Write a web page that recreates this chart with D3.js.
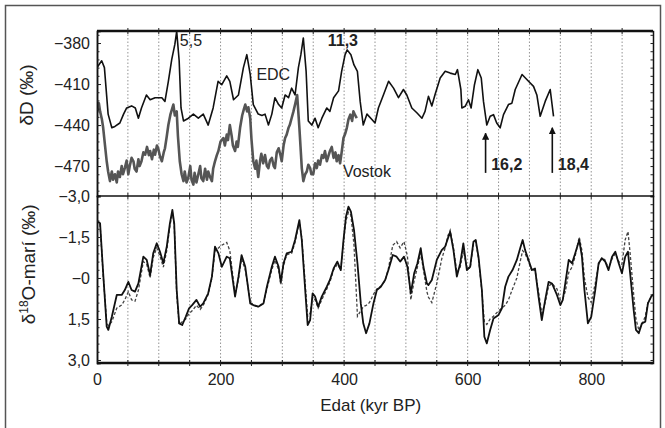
<!DOCTYPE html>
<html>
<head>
<meta charset="utf-8">
<script src="https://cdn.jsdelivr.net/npm/d3@7"></script>
<style>
body{margin:0;background:#fff;}
svg{display:block;font-family:"Liberation Sans",Arial,sans-serif;}
</style>
</head>
<body>
<div class="chart"></div>
<script>
(function(){

//pseudo-global data arrays (ages in kyr BP)
var edcAge = [0,7.6,12,18,24,29,37,43,48,56,62,67,72,80,86,94,105,110,115.5,121,126,129,133,136,140,148,156,164,172,180,188,196,202,210,215,221,229,237,242.5,248,253,261,267,272,277.5,283,288,294,299,304.5,310,315,320.6,326,330,334,338.5,342,347.7,353,358,364,372,377,383,391,396,401.6,405,411,416,421.5,426,431,437,445,450,455.5,463.6,472,480,488,496,501.5,509.6,517.7,526,531,536.5,542,547,555.5,563.6,571.7,580,583.5,589,590.6,596,601.3,605.6,611,616.5,622,625.6,631,636.4,641.8,647,652.6,658,666,671.6,677,688,698.5,706.6,712,717.4,725.5,733.6,739];
var edcDD = [-398,-393,-398,-432,-442,-441,-438.5,-432,-427.5,-426,-427.5,-435,-427.5,-418,-421.5,-420,-420,-422.7,-408,-392,-381,-371.5,-393,-427.5,-437,-435,-432,-435,-432,-440,-427.5,-408,-410.5,-404,-408,-421.5,-418,-398,-388.5,-403,-425,-432,-433,-432,-440,-432,-420,-425,-427.5,-418,-420,-413,-418,-398,-388.5,-376.3,-400.7,-437,-440,-435,-442,-435,-427.5,-430,-420,-415,-400.7,-388.5,-385,-388.5,-396,-400.7,-422.7,-440,-432,-436,-438.5,-427.5,-418,-408,-413,-420,-414,-418,-427.5,-431,-435,-430,-419,-426,-418,-405.6,-400.7,-402,-403,-399.5,-414,-427.5,-426.3,-421.5,-427.5,-410.5,-399.5,-405.6,-422.7,-440,-433.6,-432.4,-438.5,-442,-432.4,-425,-424,-414,-403,-408,-411.7,-418,-433.6,-422.7,-414,-433.6];

var vostokAge = [0,3,5,8,10,13,15.7,18,21,24,26,29,32,34,37,40,42,45,48,50.7,53,56,59,61,64,67,69,72,75,78,81,84,86,89,92,94,97,99,102,105,108,110,113,115.5,119,123.6,126,129,131,134,137,140,142,145,148,151,153,156,158,161,164,167,169,172,175,178,180,183,186,188,191,194,196.5,200,204.5,207,210,212,215,218,220,223.5,226,228,231.6,235,238,240,243,245,248,250,253,256,258,261,264,266,269,272,275,277.5,280,283,286,288,291,294,297,299,302,304.5,307,310,312,315,318,320.6,324,327.6,331.5,334,337,339.6,342,345,347,350,353,355.8,358,361,364,366.5,369,372,375,377,380,383,386,388,391,393.5,396,399,402,404.4,407,410,413,415,418,420.5];
var vostokDD = [-431,-424,-430,-436,-442,-455,-466.5,-474,-481,-474,-480,-476,-482,-474,-478,-470,-476,-471.5,-466,-476,-470,-464,-466.5,-472,-474,-465,-470,-466.5,-460,-461.7,-456,-462,-459,-465,-458,-461.7,-455,-457,-463,-466.5,-460,-457,-448,-440,-432,-425,-433,-430,-448,-466.5,-476,-481,-474,-482,-478,-470,-480,-483.6,-475,-482,-476,-470,-479,-481,-472,-480,-474,-478,-481,-472,-466.5,-462,-459,-452,-449.5,-455,-447,-451,-440,-448,-455,-459,-452,-456,-442,-433,-428,-425,-430,-427,-435,-450,-466.5,-472,-466,-478,-466,-461,-468,-462,-470,-471.5,-466,-464,-470,-471.5,-460,-457,-462,-466.5,-455,-449.5,-447,-442,-440,-435,-430,-425,-418,-442,-471.5,-481,-476,-474,-469,-471.5,-476,-476,-468,-471.5,-466,-469,-462,-464,-459,-466.5,-462,-459,-456,-464,-460,-466.5,-462,-468,-460,-449.5,-446,-442,-436,-432.4,-437,-430,-433,-435];

var marineAge = [0,1,5,10,15.7,18.3,24,32,40,45,50.7,56,61.5,67,75,80.5,86,91,96.7,102,107.4,112.9,118,122,125,129,133,138,143.6,149,154,161,167,172,180,186,191,196.6,202,210,215,223.5,229,234,240,248,253,261,269.5,275,283,288,294,297.5,302,307,315,320.6,327.6,331.5,337,341,345,349,353,358,363.8,372,377,383,389,394.6,399,403,407,411,416,421.6,427,431,435.6,441,447.5,453,459.4,466.4,471.7,478.8,485,490.7,497,502.5,508,513.4,518.7,524,528.4,534,536.5,542,550,558,563.6,568,571.7,577,582.5,588,593,598.7,604,609.4,613,617.5,623,627,631,636.4,641.8,650,655.4,660.7,666,672.6,679.6,685,689,693,698.5,704,709,714.7,720,725.5,731,736.5,744.5,750,754,758,763.6,769,774,780.6,785,789,794.6,800,806.5,812,817.3,822.7,828,833.7,839,844.5,849.7,855,859.5,863,868.7,872.4,877,882,887.5,891.8,897,900];
var marineSolid = [-2.12,-2.06,-2.0,-0.17,1.78,1.9,1.42,0.62,0.62,0.44,0.14,0.44,0.5,0.2,-0.78,-0.66,-0.11,-0.9,-1.27,-0.96,-0.54,-1.15,-2.0,-2.49,-2.0,0.44,1.66,1.72,1.42,1.11,0.99,0.8,1.05,0.93,0.56,-0.05,-1.15,-0.9,-0.41,-0.78,-0.72,0.68,-0.05,-0.84,-0.41,0.93,0.99,1.05,0.93,0.32,-0.41,-0.78,-0.41,0.14,-0.54,-0.9,-0.96,-1.39,-2.12,-1.39,0.44,1.72,1.54,0.56,0.68,1.05,0.68,0.32,0.07,-0.35,-0.6,-0.29,-1.39,-2.24,-2.61,-2.43,-1.76,-0.54,0.93,1.66,2.02,1.66,0.93,0.44,0.32,0.07,-0.29,-0.84,-0.78,-0.6,-0.78,-0.41,0.56,-0.17,-0.54,-1.09,-0.41,0.2,0.26,0.07,-0.66,-1.02,-1.15,-1.45,-1.69,-1.02,-0.05,-0.54,-1.27,-0.29,-0.41,-1.33,-1.39,-0.78,0.44,2.15,2.39,1.9,1.48,1.35,1.11,0.32,-0.05,-0.29,-0.66,-1.09,-1.39,-1.02,-0.66,-0.29,-0.35,0.68,1.54,0.8,0.14,0.2,0.62,0.99,0.8,0.2,-0.66,-0.54,-0.9,-1.39,-0.78,0.44,1.66,1.42,0.44,-0.54,-0.72,-0.6,-0.29,-0.78,-0.96,-0.54,-0.17,-0.78,-0.96,-0.17,1.17,1.9,2.02,1.66,1.6,0.93,0.68,0.6];
var marineDashed = [-2.12,-2.06,-1.95,-0.1,1.6,1.75,1.6,1.1,0.99,0.8,0.5,0.8,0.85,0.45,-0.6,-0.5,0.0,-0.75,-1.1,-0.8,-0.4,-1.0,-1.9,-2.4,-1.95,0.6,1.7,1.6,1.5,1.3,1.2,1.0,1.15,1.0,0.6,0.0,-1.0,-1.1,-1.2,-1.3,-1.0,0.6,0.05,-0.7,-0.3,0.85,1.0,1.05,0.9,0.4,-0.3,-0.65,-0.3,0.25,-0.45,-0.85,-0.9,-1.3,-2.05,-1.45,0.2,1.4,1.3,0.7,0.8,1.1,0.8,0.4,0.15,-0.3,-0.5,-0.3,-1.3,-2.1,-2.4,-2.3,-1.2,1.4,1.2,1.05,1.0,0.9,0.6,0.4,0.3,0.1,-0.35,-1.2,-1.33,-1.1,-1.33,-0.8,0.8,0.1,-0.4,-0.9,-0.3,0.5,0.7,0.9,0.2,-0.7,-1.1,-1.55,-1.75,-1.1,-0.2,-0.4,-1.0,-0.4,-0.35,-1.25,-1.35,-0.7,0.5,1.6,1.7,1.5,1.4,1.2,1.1,1.0,0.8,0.4,0.0,-0.6,-1.0,-0.9,-0.6,-0.25,-0.3,0.5,1.3,0.9,0.3,0.2,0.4,0.8,0.75,0.5,-0.2,-0.4,-0.8,-1.5,-1.0,0.0,0.7,0.9,0.2,-0.5,-0.75,-0.65,-0.35,-0.7,-0.9,-0.6,-0.5,-1.4,-1.7,-0.9,0.6,1.5,1.9,1.7,1.4,0.9,0.7,0.6];

var topTicks = [-380,-410,-440,-470];
var bottomTicks = [-3,-1.5,0,1.5,3];
var ageTicks = [0,200,400,600,800];
var gridAges = d3.range(50,900,50);

window.onload = drawChart();

function drawChart(){

    var width = 665,
        height = 428;

    var svg = d3.select(".chart")
        .append("svg")
        .attr("width", width)
        .attr("height", height);

    svg.append("rect")
        .attr("width", width).attr("height", height)
        .attr("fill", "#fff");

    //outer frame
    svg.append("rect")
        .attr("x", 5.5).attr("y", 5.5)
        .attr("width", 655).attr("height", 430)
        .attr("fill", "none")
        .attr("stroke", "#555")
        .attr("stroke-width", 1.5);

    var x = d3.scaleLinear().domain([0, 900]).range([97, 653]);
    var yTop = d3.scaleLinear().domain([-371.2, -491.9]).range([31, 196]);
    var yBot = d3.scaleLinear().domain([-3, 3.11]).range([196, 363]);

    var defs = svg.append("defs");
    defs.append("clipPath").attr("id", "clipTop")
        .append("rect").attr("x", 97).attr("y", 31).attr("width", 556).attr("height", 165);
    defs.append("clipPath").attr("id", "clipBot")
        .append("rect").attr("x", 97).attr("y", 196).attr("width", 556).attr("height", 167);

    //dotted gridlines
    svg.append("g").selectAll("line")
        .data(gridAges).enter()
        .append("line")
        .attr("x1", function(d){ return x(d); })
        .attr("x2", function(d){ return x(d); })
        .attr("y1", 31).attr("y2", 363)
        .attr("stroke", "#888")
        .attr("stroke-width", 0.9)
        .attr("stroke-dasharray", "1.5,2");

    //lines
    var lineTop = function(ages, vals){
        return d3.line()
            .x(function(d, i){ return x(ages[i]); })
            .y(function(d){ return yTop(d); })(vals);
    };
    var lineBot = function(ages, vals){
        return d3.line()
            .x(function(d, i){ return x(ages[i]); })
            .y(function(d){ return yBot(d); })(vals);
    };

    var gTop = svg.append("g").attr("clip-path", "url(#clipTop)");
    gTop.append("path")
        .attr("d", lineTop(vostokAge, vostokDD))
        .attr("fill", "none")
        .attr("stroke", "#555")
        .attr("stroke-width", 2.6)
        .attr("stroke-linejoin", "round");
    gTop.append("path")
        .attr("d", lineTop(edcAge, edcDD))
        .attr("fill", "none")
        .attr("stroke", "#111")
        .attr("stroke-width", 1.6)
        .attr("stroke-linejoin", "round");

    var gBot = svg.append("g").attr("clip-path", "url(#clipBot)");
    gBot.append("path")
        .attr("d", lineBot(marineAge, marineDashed))
        .attr("fill", "none")
        .attr("stroke", "#444")
        .attr("stroke-width", 1.3)
        .attr("stroke-dasharray", "3,2");
    gBot.append("path")
        .attr("d", lineBot(marineAge, marineSolid))
        .attr("fill", "none")
        .attr("stroke", "#111")
        .attr("stroke-width", 1.8)
        .attr("stroke-linejoin", "round");

    //frame lines of the panels
    var hLines = [[31, 2.5], [196, 1.5], [363, 2.5]];
    svg.append("g").selectAll("line")
        .data(hLines).enter()
        .append("line")
        .attr("x1", x(0)).attr("x2", x(900))
        .attr("y1", function(d){ return d[0]; })
        .attr("y2", function(d){ return d[0]; })
        .attr("stroke", "#111")
        .attr("stroke-width", function(d){ return d[1]; });

    //ticks across the horizontal lines
    hLines.forEach(function(h){
        svg.append("g").selectAll("line")
            .data(gridAges).enter()
            .append("line")
            .attr("x1", function(d){ return x(d); })
            .attr("x2", function(d){ return x(d); })
            .attr("y1", h[0] - 3).attr("y2", h[0] + 3)
            .attr("stroke", "#222")
            .attr("stroke-width", 1);
    });

    //left axes
    var fmtTop = function(d){ return "\u2212" + Math.abs(d); };
    var fmtBot = function(d){
        if (d === 0) return "\u22120";
        return (d < 0 ? "\u2212" : "") + Math.abs(d).toFixed(1).replace(".", ",");
    };

    svg.append("g")
        .attr("transform", "translate(" + x(0) + ",0)")
        .call(d3.axisLeft(yTop).tickValues(topTicks).tickFormat(fmtTop).tickSize(-4).tickPadding(7));
    svg.append("g")
        .attr("transform", "translate(" + x(0) + ",0)")
        .call(d3.axisLeft(yBot).tickValues(bottomTicks).tickFormat(fmtBot).tickSize(-4).tickPadding(7));

    //minor ticks
    svg.append("g")
        .attr("transform", "translate(" + x(0) + ",0)")
        .call(d3.axisLeft(yTop).tickValues(d3.range(-374, -491, -6)).tickFormat("").tickSize(-2.5));
    svg.append("g")
        .attr("transform", "translate(" + x(0) + ",0)")
        .call(d3.axisLeft(yBot).tickValues(d3.range(-2.7, 3.1, 0.3)).tickFormat("").tickSize(-2.5));
    svg.append("g")
        .attr("transform", "translate(" + x(900) + ",0)")
        .call(d3.axisRight(yTop).tickValues(d3.range(-374, -491, -6)).tickFormat("").tickSize(-2.5));
    svg.append("g")
        .attr("transform", "translate(" + x(900) + ",0)")
        .call(d3.axisRight(yBot).tickValues(d3.range(-2.7, 3.1, 0.3)).tickFormat("").tickSize(-2.5));

    //x axis labels
    var axX = svg.append("g")
        .attr("transform", "translate(0," + yBot(3.11) + ")")
        .call(d3.axisBottom(x).tickValues(ageTicks).tickSize(0).tickPadding(11));
    axX.select(".domain").remove();

    svg.selectAll(".tick text")
        .attr("font-family", "Liberation Sans, Arial, sans-serif")
        .attr("font-size", 16)
        .attr("fill", "#222");
    svg.selectAll(".domain").attr("stroke", "#111").attr("stroke-width", 1.5);
    svg.selectAll(".tick line").attr("stroke", "#222");

    //axis titles
    svg.append("text")
        .attr("transform", "translate(" + x(443) + ",411)")
        .attr("text-anchor", "middle")
        .attr("font-size", 17)
        .attr("fill", "#222")
        .text("Edat (kyr BP)");

    svg.append("text")
        .attr("transform", "translate(33," + yTop(-418) + ") rotate(-90)")
        .attr("text-anchor", "middle")
        .attr("font-size", 19)
        .attr("fill", "#222")
        .text("\u03b4D (\u2030)");

    var t2 = svg.append("text")
        .attr("transform", "translate(35," + yBot(-0.5) + ") rotate(-90)")
        .attr("text-anchor", "middle")
        .attr("font-size", 19)
        .attr("fill", "#222");
    t2.append("tspan").text("\u03b4");
    t2.append("tspan").attr("font-size", 12).attr("dy", -7).text("18");
    t2.append("tspan").attr("dy", 7).text("O-mar\u00ed (\u2030)");

    //annotations
    var ann = svg.append("g").attr("font-size", 16).attr("fill", "#222");
    ann.append("text").attr("x", x(134)).attr("y", yTop(-382.5)).text("5,5");
    ann.append("text").attr("x", x(373.5)).attr("y", yTop(-382.5)).attr("font-weight", "bold").text("11,3");
    ann.append("text").attr("x", x(258)).attr("y", yTop(-407)).text("EDC");
    ann.append("text").attr("x", x(398)).attr("y", yTop(-478)).text("Vostok");
    ann.append("text").attr("x", x(638)).attr("y", yTop(-473)).attr("font-weight", "bold").text("16,2");
    ann.append("text").attr("x", x(746)).attr("y", yTop(-473)).attr("font-weight", "bold").text("18,4");

    defs.append("marker")
        .attr("id", "arrowHead")
        .attr("viewBox", "0 0 10 10")
        .attr("refX", 9).attr("refY", 5)
        .attr("markerWidth", 4.5).attr("markerHeight", 4.5)
        .attr("orient", "auto")
        .append("path").attr("d", "M0,0L10,5L0,10Z").attr("fill", "#111");

    var arrows = [[629, -446], [737, -442]];
    svg.append("g").selectAll("line")
        .data(arrows).enter()
        .append("line")
        .attr("x1", function(d){ return x(d[0]); })
        .attr("x2", function(d){ return x(d[0]); })
        .attr("y1", yTop(-475))
        .attr("y2", function(d){ return yTop(d[1]); })
        .attr("stroke", "#111")
        .attr("stroke-width", 1.6)
        .attr("marker-end", "url(#arrowHead)");
}

})();
</script>
</body>
</html>
